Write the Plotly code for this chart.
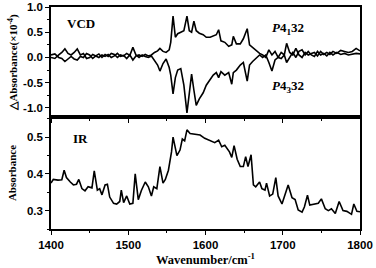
import plotly.graph_objects as go
from plotly.subplots import make_subplots

# VCD wavenumbers and spectra
vcd_wn = [1400, 1405, 1410, 1414, 1418, 1422, 1426, 1430, 1434, 1438, 1442, 1446, 1450, 1454,
          1458, 1462, 1466, 1470, 1474, 1478, 1482, 1486, 1490, 1494, 1498, 1502, 1506, 1510,
          1514, 1518, 1522, 1526, 1530, 1534, 1538, 1541, 1545, 1549, 1553, 1555, 1558, 1561,
          1564, 1568, 1572, 1576, 1579, 1582, 1585, 1588, 1592, 1597, 1601, 1606, 1610, 1614,
          1617, 1620, 1625, 1630, 1634, 1636, 1640, 1645, 1649, 1654, 1657, 1661, 1666, 1670,
          1674, 1678, 1682, 1686, 1690, 1694, 1698, 1702, 1705, 1709, 1713, 1717, 1721, 1725,
          1729, 1733, 1737, 1741, 1745, 1749, 1753, 1757, 1761, 1765, 1770, 1775, 1780, 1785,
          1790, 1795, 1800]
vcd_p41 = [0.05, 0.07, 0.0, -0.02, -0.08, -0.02, 0.02, -0.03, -0.05, 0.02, 0.0, 0.08, 0.05, -0.02,
           0.03, 0.0, 0.05, 0.02, 0.06, 0.0, 0.03, 0.08, 0.02, 0.04, -0.02, 0.05, -0.05, 0.03,
           0.05, 0.02, 0.06, 0.03, 0.05, 0.1, 0.13, 0.18, 0.12, 0.1, 0.15, 0.3, 0.82, 0.4,
           0.47, 0.5, 0.53, 0.82, 0.53, 0.5, 0.72, 0.53, 0.48, 0.45, 0.4, 0.4, 0.42, 0.45,
           0.55, 0.33, 0.3, 0.22, 0.25, 0.42, 0.27, 0.27, 0.37, 0.57, 0.25, 0.2, 0.13, 0.08,
           0.05, 0.0, 0.15, 0.05, 0.12, 0.0, 0.1, 0.05, 0.28, 0.1, 0.05, 0.18, 0.05, 0.0,
           0.1, 0.05, 0.08, 0.1, 0.03, 0.12, 0.06, 0.1, 0.06, 0.12, 0.08, 0.14, 0.12, 0.1,
           0.12, 0.18, 0.13]
vcd_p43 = [0.0, -0.02, 0.05, 0.1, 0.17, 0.08, 0.05, 0.1, 0.17, 0.05, 0.08, -0.02, 0.0, 0.06,
           0.03, 0.07, 0.0, 0.06, 0.02, 0.08, 0.06, 0.0, 0.05, 0.03, 0.08, 0.04, 0.2, 0.05,
           0.0, 0.05, 0.02, 0.0, 0.03, -0.05, -0.15, -0.27, -0.12, -0.03, -0.2, -0.35, -0.72, -0.4,
           -0.25, -0.22, -0.55, -1.1, -0.65, -0.33, -0.65, -0.95, -0.82, -0.7, -0.55, -0.45, -0.35, -0.3,
           -0.4, -0.28, -0.35, -0.3, -0.53, -0.3, -0.25, -0.15, -0.1, -0.47, -0.15, -0.08, 0.0, 0.05,
           0.0, 0.05, -0.1, -0.27, -0.05, 0.0, -0.02, 0.05, -0.1, 0.0, 0.1, 0.0, 0.12, 0.15,
           0.05, 0.12, 0.05, 0.02, 0.12, 0.05, 0.08, 0.03, 0.1, 0.05, 0.1, 0.06, 0.08, 0.05,
           0.06, 0.08, 0.07]

# IR spectrum
ir_wn = [1400, 1403, 1409, 1414, 1417, 1420, 1425, 1429, 1433, 1436, 1440, 1444, 1448, 1453,
         1456, 1460, 1463, 1466, 1470, 1473, 1476, 1481, 1485, 1489, 1491, 1494, 1498, 1502,
         1506, 1509, 1513, 1517, 1522, 1526, 1530, 1533, 1537, 1541, 1545, 1548, 1552, 1556,
         1558, 1563, 1567, 1570, 1573, 1576, 1580, 1589, 1593, 1599, 1606, 1612, 1617, 1621,
         1625, 1631, 1634, 1637, 1641, 1645, 1649, 1652, 1655, 1659, 1662, 1665, 1670, 1673,
         1677, 1679, 1683, 1687, 1691, 1694, 1699, 1703, 1707, 1712, 1716, 1720, 1725, 1728,
         1732, 1735, 1740, 1746, 1750, 1755, 1759, 1763, 1768, 1773, 1778, 1783, 1789, 1792,
         1796, 1800]
ir_abs = [0.375, 0.385, 0.383, 0.384, 0.41, 0.39, 0.378, 0.37, 0.372, 0.385, 0.36, 0.354, 0.365, 0.362,
          0.408, 0.356, 0.36, 0.343, 0.37, 0.372, 0.337, 0.32, 0.318, 0.325, 0.356, 0.322, 0.34, 0.318,
          0.32, 0.40, 0.33, 0.355, 0.378, 0.365, 0.34, 0.365, 0.36, 0.42, 0.375, 0.385, 0.41, 0.46,
          0.50, 0.45, 0.465, 0.495, 0.49, 0.52, 0.51, 0.508, 0.506, 0.497, 0.49, 0.485, 0.492, 0.474,
          0.478, 0.46, 0.445, 0.477, 0.44, 0.42, 0.42, 0.447, 0.42, 0.452, 0.37, 0.365, 0.378, 0.36,
          0.356, 0.375, 0.34, 0.345, 0.39, 0.34, 0.318, 0.345, 0.37, 0.335, 0.33, 0.302, 0.296, 0.31,
          0.342, 0.315, 0.318, 0.32, 0.332, 0.305, 0.30, 0.305, 0.292, 0.325, 0.30, 0.298, 0.29, 0.318,
          0.298, 0.297]

x_ticks = [1400, 1500, 1600, 1700, 1800]
vcd_ticks = [-1.0, -0.5, 0.0, 0.5, 1.0]
ir_ticks = [0.3, 0.4, 0.5]

fig = make_subplots(rows=2, cols=1, shared_xaxes=False, vertical_spacing=0.0)
line = dict(color="black", width=1.6)
fig.add_trace(go.Scatter(x=vcd_wn, y=vcd_p41, mode="lines", line=line, hoverinfo="skip"), row=1, col=1)
fig.add_trace(go.Scatter(x=vcd_wn, y=vcd_p43, mode="lines", line=line, hoverinfo="skip"), row=1, col=1)
fig.add_trace(go.Scatter(x=ir_wn, y=ir_abs, mode="lines", line=line, hoverinfo="skip"), row=2, col=1)

tickfont = dict(family="Liberation Sans, Arial, sans-serif", size=11.5, color="black", weight="bold")
serif = "Liberation Serif, Times New Roman, serif"
axcommon = dict(showgrid=False, zeroline=False, showline=True, linecolor="black", linewidth=1.5,
                mirror=True, ticks="outside", ticklen=4, tickwidth=1.2, tickcolor="black",
                tickfont=tickfont, automargin=False)
minor_x = dict(ticks="outside", ticklen=2.5, tickwidth=1, tickcolor="black", dtick=50, tick0=1400)

fig.update_xaxes(range=[1400, 1800], tickvals=x_ticks, showticklabels=False,
                 minor=minor_x, **axcommon, row=1, col=1)
fig.update_xaxes(range=[1400, 1800], tickvals=x_ticks, minor=minor_x,
                 title=dict(text="<b>Wavenumber/cm<sup>-1</sup></b>", font=dict(family=serif, size=12.5, color="black"), standoff=3),
                 **axcommon, row=2, col=1)
fig.update_yaxes(range=[-1.18, 1.0], tickvals=vcd_ticks, ticktext=["-1.0", "-0.5", "0.0", "0.5", "1.0"],
                 minor=dict(ticks="outside", ticklen=2.5, tickwidth=1, tickcolor="black", dtick=0.25, tick0=0),
                 title=dict(text="<b>△Absorbance(×10<sup>-4</sup>)</b>", font=dict(family=serif, size=11, color="black"), standoff=3),
                 **axcommon, row=1, col=1)
fig.update_yaxes(range=[0.25, 0.555], tickvals=ir_ticks, ticktext=["0.3", "0.4", "0.5"],
                 minor=dict(ticks="outside", ticklen=2.5, tickwidth=1, tickcolor="black", dtick=0.05, tick0=0.25),
                 title=dict(text="<b>Absorbance</b>", font=dict(family=serif, size=11, color="black"), standoff=8),
                 **axcommon, row=2, col=1)

top_frac = 110 / 222
fig.update_layout(
    yaxis=dict(domain=[1 - top_frac, 1]),
    yaxis2=dict(domain=[0, 1 - top_frac]),
)

afont = dict(family=serif, size=13, color="black")
fig.add_annotation(x=1418, y=0.67, xref="x", yref="y", text="<b>VCD</b>", showarrow=False,
                   xanchor="left", font=afont)
fig.add_annotation(x=1683, y=0.57, xref="x", yref="y", text="<b><i>P</i>4<sub>1</sub>32</b>", showarrow=False,
                   xanchor="left", font=afont)
fig.add_annotation(x=1683, y=-0.57, xref="x", yref="y", text="<b><i>P</i>4<sub>3</sub>32</b>", showarrow=False,
                   xanchor="left", font=afont)
fig.add_annotation(x=1426, y=0.497, xref="x2", yref="y2", text="<b>IR</b>", showarrow=False,
                   xanchor="left", font=afont)

fig.update_layout(width=376, height=268, margin=dict(l=51, r=16, t=7, b=39, autoexpand=False),
                  paper_bgcolor="white", plot_bgcolor="white", showlegend=False, hovermode=False)
fig.write_html("out.html", config={"displayModeBar": False},
               post_script="document.body.style.margin='0px';document.body.style.overflow='hidden';")
